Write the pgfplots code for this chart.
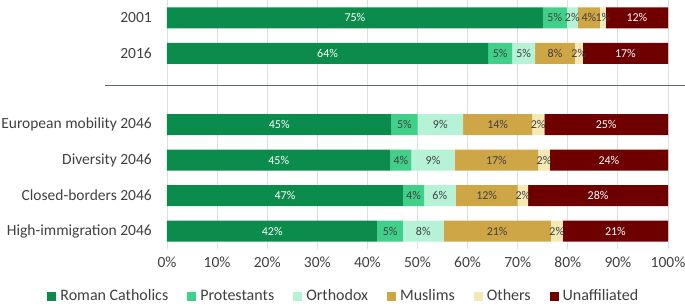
\documentclass[border=0pt]{standalone}
\usepackage{pgfplots}
\usepackage{pgfplotstable}
\pgfplotsset{compat=1.18}
\usepackage{fontspec}
\setmainfont{Carlito}
\definecolor{rc}{HTML}{0B8C4C}
\definecolor{pr}{HTML}{40D08A}
\definecolor{or}{HTML}{B6F2D6}
\definecolor{mu}{HTML}{CFA645}
\definecolor{ot}{HTML}{F4E8B5}
\definecolor{un}{HTML}{6E0000}
\definecolor{txt}{HTML}{404040}
\definecolor{gridc}{HTML}{D9E0E0}
\definecolor{sepc}{HTML}{5C6E70}
\pgfplotstableread{
pos RC PR OR MU OT UN
0 75.0 4.8 2.2 4.4 1.2 12.4
1 64.1 4.8 4.6 7.9 1.6 17.0
3 44.8 5.2 9.1 13.8 2.4 24.7
4 44.6 4.2 8.6 16.7 2.3 23.6
5 47.1 4.2 6.3 12.4 2.1 27.9
6 42.0 5.1 8.1 21.4 2.4 21.0
}\data
\pgfplotsset{
  geom/.style={scale only axis, width=501bp, height=249bp,
    xmin=0, xmax=100, ymin=-0.5, ymax=6.5, y dir=reverse,
    /pgf/number format/assume math mode=true},
  lab/.style={draw=none, mark=none, forget plot, nodes near coords={\pgfmathprintnumber[fixed,precision=0]{\pgfplotspointmeta}\%},
    point meta=explicit,
    every node near coord/.append style={text=#1, anchor=center, inner sep=0pt, font=\fontsize{12bp}{14bp}\selectfont}},
}
\begin{document}
\begin{tikzpicture}
\begin{axis}[
  name=ax, geom,
  xbar stacked, bar width=21bp,
  clip=false,
  axis line style={draw=none},
  xmajorgrids, grid style={color=gridc, line width=0.9bp},
  major tick length=0pt,
  xtick={0,10,...,100},
  xticklabel={\pgfmathprintnumber{\tick}\%},
  ytick={0,1,3,4,5,6},
  yticklabels={2001,2016,European mobility 2046,Diversity 2046,Closed-borders 2046,High-immigration 2046},
  tick label style={font=\fontsize{15.5bp}{18bp}\selectfont, text=txt},
  yticklabel style={inner sep=0pt, xshift=-15bp},
  xticklabel style={inner sep=0pt, yshift=-8bp},
  legend columns=6,
  legend style={draw=none, at={(0.351,-0.189)}, anchor=center,
    font=\fontsize{16bp}{18bp}\selectfont, text=txt,
    nodes={inner sep=0pt},
    /tikz/every odd column/.append style={column sep=4bp},
    /tikz/every even column/.append style={column sep=19bp},
    inner sep=0pt},
  legend image code/.code={\fill[#1] (0bp,-4.5bp) rectangle (9bp,4.5bp);},
]
\addplot[fill=rc, draw=none] table[x=RC, y=pos] {\data};
\addplot[fill=pr, draw=none] table[x=PR, y=pos] {\data};
\addplot[fill=or, draw=none] table[x=OR, y=pos] {\data};
\addplot[fill=mu, draw=none] table[x=MU, y=pos] {\data};
\addplot[fill=ot, draw=none] table[x=OT, y=pos] {\data};
\addplot[fill=un, draw=none] table[x=UN, y=pos] {\data};
\legend{Roman Catholics,Protestants,Orthodox,Muslims,Others,Unaffiliated}
\draw[color=sepc, line width=1.1bp] (axis cs:-12.4,1.9) -- (axis cs:103.4,1.9);
\end{axis}
\begin{axis}[geom, hide axis, clip=false]
\addplot[lab=white] table[x expr={\thisrow{RC}/2}, y=pos, meta=RC] {\data};
\addplot[lab=txt] table[x expr={\thisrow{RC}+\thisrow{PR}/2}, y=pos, meta=PR] {\data};
\addplot[lab=txt] table[x expr={\thisrow{RC}+\thisrow{PR}+\thisrow{OR}/2}, y=pos, meta=OR] {\data};
\addplot[lab=txt] table[x expr={\thisrow{RC}+\thisrow{PR}+\thisrow{OR}+\thisrow{MU}/2}, y=pos, meta=MU] {\data};
\addplot[lab=txt] table[x expr={\thisrow{RC}+\thisrow{PR}+\thisrow{OR}+\thisrow{MU}+\thisrow{OT}/2}, y=pos, meta=OT] {\data};
\addplot[lab=white] table[x expr={\thisrow{RC}+\thisrow{PR}+\thisrow{OR}+\thisrow{MU}+\thisrow{OT}+\thisrow{UN}/2}, y=pos, meta=UN] {\data};
\end{axis}
\pgfresetboundingbox
\path (ax.south west) ++(-167bp,-58bp) rectangle ++(685bp,307bp);
\end{tikzpicture}
\end{document}
